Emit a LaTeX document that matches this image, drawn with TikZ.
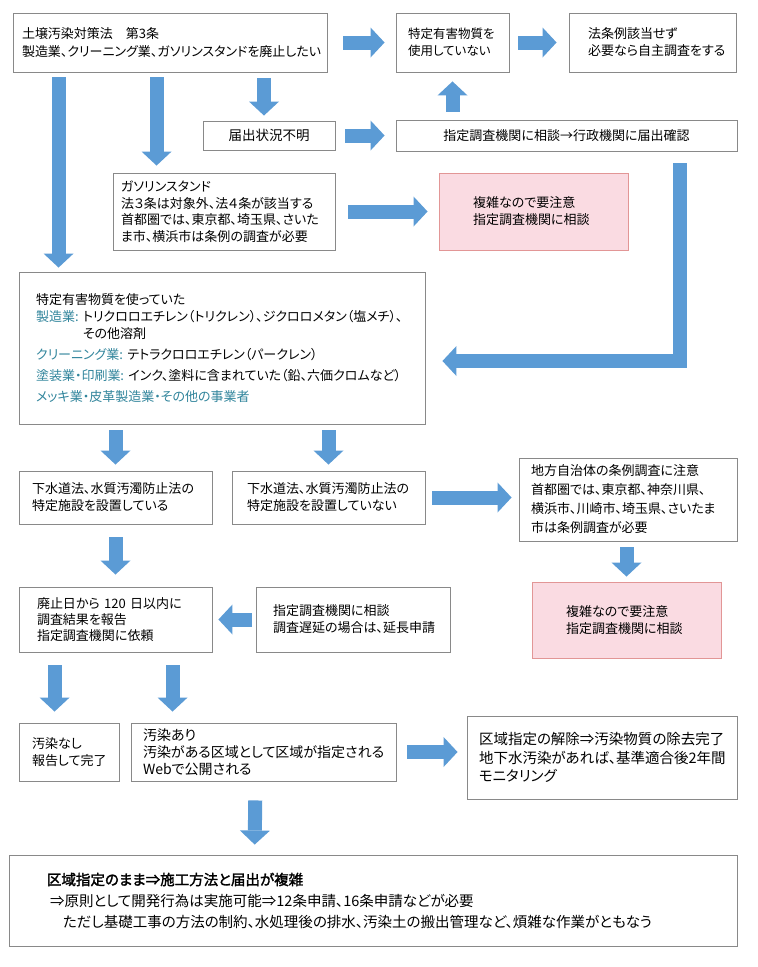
\documentclass[tikz,border=0pt]{standalone}
\usepackage{fontspec}
\setmainfont{Noto Sans CJK JP}[RawFeature=+palt, AutoFakeBold=2]
\usetikzlibrary{arrows.meta}
\definecolor{boxgray}{RGB}{137,137,137}
\definecolor{arrowblue}{RGB}{91,155,213}
\definecolor{pinkfill}{RGB}{250,219,226}
\definecolor{pinkline}{RGB}{226,150,150}
\definecolor{labelteal}{RGB}{49,133,156}
\newcommand{\fsz}[2]{\fontsize{#1pt}{#2pt}\selectfont}
\tikzset{bx/.style={draw=boxgray, line width=0.9pt, fill=white, inner ysep=0pt, align=left, font=\fsz{13}{17}}}
\tikzset{pk/.style={bx, draw=pinkline, fill=pinkfill}}
\tikzset{blk/.style={draw=arrowblue, line width=14pt, line join=miter, -{Triangle[width=30pt,length=14pt,line width=0pt]}}}

\begin{document}
\begin{tikzpicture}[x=1pt,y=-1pt]
\fill[white] (0,0) rectangle (758,967);
\useasboundingbox (0,0) rectangle (758,967);
% boxes
\node[bx, text width=296pt, inner xsep=9pt, minimum height=59pt, font=\fsz{13}{18}] (A) at (170,42.5) {土壌汚染対策法　第3条\\製造業、クリーニング業、ガソリンスタンドを廃止したい};
\node[bx, text width=89pt, inner xsep=12pt, minimum height=59pt, font=\fsz{12.5}{17}] (B) at (452.5,42.5) {特定有害物質を\\使用していない};
\node[bx, text width=129pt, inner xsep=19pt, minimum height=59pt] (C) at (652.5,42.5) {法条例該当せず\\必要なら自主調査をする};
\node[bx, text width=120pt, inner xsep=6pt, minimum height=29pt, align=center, font=\fsz{13.5}{17}] (D) at (269,135.5) {届出状況不明};
\node[bx, text width=329pt, inner xsep=6pt, minimum height=31pt, align=center] (E) at (566.5,135.5) {指定調査機関に相談→行政機関に届出確認};
\node[bx, text width=206pt, inner xsep=8pt, minimum height=77pt, font=\fsz{13}{16.5}] (F) at (224,211.5) {ガソリンスタンド\\法３条は対象外、法４条が該当する\\首都圏では、東京都、埼玉県、さいた\\ま市、横浜市は条例の調査が必要};
\node[pk, text width=121pt, inner xsep=34pt, minimum height=77pt] (G) at (533.5,211.5) {複雑なので要注意\\指定調査機関に相談};
\node[bx, text width=372pt, inner xsep=17pt, minimum height=152pt] (H) at (222,348) {特定有害物質を使っていた\\
  \textcolor{labelteal}{製造業:}~トリクロロエチレン（トリクレン）、ジクロロメタン（塩メチ）、\\
  \hphantom{製造業:~}その他溶剤\\[4pt]
  \textcolor{labelteal}{クリーニング業:}~テトラクロロエチレン（パークレン）\\[4pt]
  \textcolor{labelteal}{塗装業・印刷業:}~インク、塗料に含まれていた（鉛、六価クロムなど）\\[4pt]
  \textcolor{labelteal}{メッキ業・皮革製造業・その他の事業者}};
\node[bx, text width=167pt, inner xsep=13pt, minimum height=53pt] (I) at (115.5,497.5) {下水道法、水質汚濁防止法の\\特定施設を設置している};
\node[bx, text width=163pt, inner xsep=15pt, minimum height=53pt] (J) at (328.5,497.5) {下水道法、水質汚濁防止法の\\特定施設を設置していない};
\node[bx, text width=194pt, inner xsep=12pt, minimum height=83pt, font=\fsz{13}{19}] (K) at (628,499.5) {地方自治体の条例調査に注意\\首都圏では、東京都、神奈川県、\\横浜市、川崎市、埼玉県、さいたま\\市は条例調査が必要};
\node[pk, text width=121pt, inner xsep=34pt, minimum height=76pt] (L) at (626.5,620) {複雑なので要注意\\指定調査機関に相談};
\node[bx, text width=157pt, inner xsep=18pt, minimum height=65pt, font=\fsz{13}{16}] (M) at (115.5,619.5) {廃止日から~120~日以内に\\調査結果を報告\\指定調査機関に依頼};
\node[bx, text width=160pt, inner xsep=17pt, minimum height=65pt] (N) at (353,619.5) {指定調査機関に相談\\調査遅延の場合は、延長申請};
\node[bx, text width=74pt, inner xsep=13pt, minimum height=58pt] (O) at (69,752) {汚染なし\\報告して完了};
\node[bx, text width=241pt, inner xsep=12pt, minimum height=58pt, font=\fsz{14}{17}] (P) at (263.5,752) {汚染あり\\汚染がある区域として区域が指定される\\Webで公開される};
\node[bx, text width=246pt, inner xsep=12pt, minimum height=83pt, font=\fsz{14.5}{18.5}] (Q) at (602,757.5) {区域指定の解除⇒汚染物質の除去完了\\地下水汚染があれば、基準適合後2年間\\モニタリング};
\node[bx, text width=652pt, inner xsep=38pt, minimum height=91pt, font=\fsz{14.5}{21}] (R) at (373,900.5) {{\bfseries 区域指定のまま⇒施工方法と届出が複雑}\\
  \hspace*{3pt}⇒原則として開発行為は実施可能⇒12条申請、16条申請などが必要\\
  \hspace*{16pt}ただし基礎工事の方法の制約、水処理後の排水、汚染土の搬出管理など、煩雑な作業がともなう};
% arrows
\draw[blk, shorten <=16pt, shorten >=11pt] (A.east) -- (B.west);
\draw[blk, shorten <=9pt, shorten >=12pt] (B.east) -- (C.west);
\draw[blk, shorten <=8pt, shorten >=9pt] (B.south |- E.north) -- (B.south);
\draw[blk, shorten <=6pt, shorten >=5pt] ([xshift=-5pt]D.north |- A.south) -- ([xshift=-5pt]D.north);
\draw[blk, shorten <=10pt, shorten >=11pt] (D.east) -- (E.west);
\draw[blk, shorten <=5pt, shorten >=4pt] ([xshift=46pt]A.south west) -- ([xshift=40pt]H.north west);
\draw[blk, shorten <=5pt, shorten >=7pt] ([xshift=144pt]A.south west) -- ([xshift=44pt]F.north west);
\draw[blk, shorten <=13pt, shorten >=11pt] (F.east) -- (G.west);
\draw[blk, shorten <=12pt, shorten >=17pt] ([xshift=-57pt]E.south east) |- ([yshift=-13pt]H.east);
\draw[blk, shorten <=6pt, shorten >=6pt] (I.north |- H.south) -- (I.north);
\draw[blk, shorten <=6pt, shorten >=6pt] (J.north |- H.south) -- (J.north);
\draw[blk, shorten <=7pt, shorten >=7pt] (J.east) -- (K.west |- J.east);
\draw[blk, shorten <=13pt, shorten >=12pt] (I.south) -- (M.north);
\draw[blk, shorten <=6pt, shorten >=5pt] (L.north |- K.south) -- (L.north);
\draw[blk, shorten <=4pt, shorten >=6pt] (N.west) -- (M.east |- N.west);
\draw[blk, shorten <=13pt, shorten >=11pt] ([xshift=36pt]M.south west) -- ([xshift=36pt]O.north west);
\draw[blk, shorten <=13pt, shorten >=11pt] ([xshift=154pt]M.south west) -- ([xshift=42pt]P.north west);
\draw[blk, shorten <=11pt, shorten >=9pt] (P.east) -- (Q.west |- P.east);
\draw[blk, shorten <=19pt, shorten >=10pt] ([xshift=-8pt]P.south) -- ([xshift=246pt]R.north west);
\end{tikzpicture}
\end{document}
